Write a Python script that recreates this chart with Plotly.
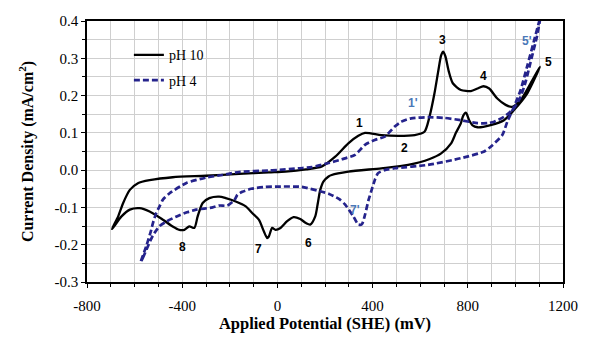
import plotly.graph_objects as go

# pH 10 cyclic voltammogram (solid black), closed loop starting at -695 mV
ph10_x = [-695, -669, -648, -620, -586, -537, -440, -300, -161, -36, 34, 120, 187, 243, 298, 340, 368,
          437, 507, 577, 618, 639, 660, 677, 688, 697, 706, 720, 737, 771, 813, 841, 866, 890, 924, 959,
          987, 1022, 1064, 1103,
          1050, 994, 952, 896, 841, 820, 805, 792, 780, 771, 750, 730, 688, 640, 549, 437, 298, 228,
          215, 194, 180, 170, 159, 138, 120, 96, 68, 41, 13, -8, -22, -36, -43, -57, -78, -106,
          -133, -175, -217, -245, -286, -314, -335, -349, -370, -391, -412, -440, -481, -537, -579,
          -620, -655, -695]
ph10_y = [-0.158, -0.124, -0.088, -0.053, -0.035, -0.027, -0.019, -0.015, -0.010, -0.006, -0.004, 0.002,
          0.010, 0.036, 0.072, 0.092, 0.100, 0.094, 0.092, 0.094, 0.103, 0.143, 0.206, 0.270, 0.308,
          0.318, 0.305, 0.265, 0.233, 0.215, 0.212, 0.219, 0.225, 0.219, 0.192, 0.175, 0.170, 0.188,
          0.233, 0.277,
          0.206, 0.161, 0.134, 0.121, 0.115, 0.120, 0.135, 0.154, 0.145, 0.126, 0.100, 0.072, 0.045,
          0.030, 0.014, 0.005, -0.004, -0.013, -0.017, -0.030, -0.053, -0.088, -0.124, -0.146, -0.142,
          -0.131, -0.126, -0.137, -0.155, -0.160, -0.155, -0.178, -0.182, -0.164, -0.133, -0.115,
          -0.097, -0.084, -0.075, -0.071, -0.075, -0.088, -0.124, -0.155, -0.151, -0.160, -0.160,
          -0.151, -0.133, -0.111, -0.102, -0.106, -0.124, -0.158]

# pH 4 cyclic voltammogram (dashed navy), closed loop starting at -575 mV
ph4_x = [-575, -565, -544, -523, -495, -467, -426, -380, -342, -272, -245, -210, -180, -168, -147, -110,
         -50, 6, 103, 187, 215, 260, 284, 319, 340, 355, 368, 383, 396, 410, 423, 450, 493, 632, 771,
         869, 900, 945, 966, 994, 1022, 1050, 1077, 1105,
         1091, 1064, 1043, 1022, 994, 952, 911, 883, 841, 771, 702, 632, 562, 521, 493, 451, 409, 368,
         326, 270, 215, 145, 89, 0, -36, -161, -231, -300, -384, -453, -481, -495, -509, -523, -530,
         -551, -575]
ph4_y = [-0.247, -0.235, -0.204, -0.175, -0.150, -0.138, -0.125, -0.113, -0.106, -0.100, -0.095, -0.095,
         -0.080, -0.066, -0.058, -0.050, -0.045, -0.044, -0.045, -0.058, -0.063, -0.078, -0.092,
         -0.124, -0.146, -0.145, -0.120, -0.080, -0.053, -0.025, -0.008, 0.000, 0.005, 0.014, 0.032,
         0.050, 0.065, 0.094, 0.130, 0.170, 0.215, 0.280, 0.344, 0.410,
         0.360, 0.290, 0.237, 0.197, 0.166, 0.143, 0.130, 0.126, 0.126, 0.134, 0.140, 0.142, 0.139,
         0.130, 0.117, 0.090, 0.081, 0.068, 0.041, 0.029, 0.019, 0.008, 0.005, 0.000, -0.001, -0.005,
         -0.013, -0.020, -0.035, -0.062, -0.079, -0.097, -0.115, -0.142, -0.160, -0.204, -0.247]

# Axis tick labels
x_ticks = [-800, -400, 0, 400, 800, 1200]
x_tick_text = ["-800", "-400", "0", "400", "800", "1200"]
y_ticks = [-0.3, -0.2, -0.1, 0.0, 0.1, 0.2, 0.3, 0.4]
y_tick_text = ["-0.3", "-0.2", "-0.1", "0.0", "0.1", "0.2", "0.3", "0.4"]

# Peak labels
label_text = ["1", "2", "3", "4", "5", "6", "7", "8", "1'", "5'", "7'"]
label_x = [347, 535, 695, 866, 1140, 131, -78, -400, 570, 1050, 326]
label_y = [0.126, 0.059, 0.350, 0.252, 0.290, -0.195, -0.211, -0.206, 0.180, 0.347, -0.106]
label_color = ["black"] * 8 + ["#4a78b8"] * 3

fig = go.Figure()
fig.add_trace(go.Scatter(x=ph10_x, y=ph10_y, mode="lines", name="pH 10",
                         line=dict(color="black", width=2.3, shape="spline", smoothing=0.7),
                         legendgroup="a"))
fig.add_trace(go.Scatter(x=ph4_x, y=ph4_y, mode="lines", name="pH 4",
                         line=dict(color="#25238c", width=2.7, dash="6px,3px", shape="spline",
                                   smoothing=0.6),
                         legendgroup="b"))

for t, x, y, c in zip(label_text, label_x, label_y, label_color):
    fig.add_annotation(x=x, y=y, text=t, showarrow=False,
                       font=dict(family="Liberation Sans", size=12, color=c, weight="bold"))

serif = "Liberation Serif"
grid = "#cfcfcf"
fig.update_layout(
    width=590, height=342,
    margin=dict(l=87, r=24, t=21, b=59),
    plot_bgcolor="white", paper_bgcolor="white",
    font=dict(family=serif, size=14, color="black"),
    showlegend=True,
    legend=dict(x=0.088, y=0.93, xanchor="left", yanchor="top", bgcolor="rgba(0,0,0,0)",
                font=dict(family=serif, size=14, color="black"), tracegroupgap=4),
    xaxis=dict(range=[-800, 1200], tickvals=x_ticks, ticktext=x_tick_text, showgrid=True,
               gridcolor=grid, gridwidth=1, zeroline=False, showline=True, linecolor="black",
               linewidth=1.5, mirror=True, ticks="outside", ticklen=4, tickcolor="black",
               ticklabelstandoff=5,
               minor=dict(dtick=100, tick0=0, showgrid=True, gridcolor=grid, ticks="outside",
                          ticklen=3, tickcolor="black"),
               tickfont=dict(family=serif, size=15),
               title=dict(text="<b>Applied Potential (SHE) (mV)</b>", standoff=5,
                          font=dict(family=serif, size=16.5))),
    yaxis=dict(range=[-0.3, 0.4], tickvals=y_ticks, ticktext=y_tick_text, showgrid=True,
               gridcolor=grid, gridwidth=1, zeroline=False, showline=True,
               linecolor="black", linewidth=1.5, mirror=True, ticks="outside", ticklen=4,
               tickcolor="black",
               minor=dict(dtick=0.05, tick0=0, showgrid=True, gridcolor=grid, ticks="outside",
                          ticklen=3, tickcolor="black"),
               tickfont=dict(family=serif, size=15),
               title=dict(text="<b>Current Density (mA/cm<sup>2</sup>)</b>", standoff=17,
                          font=dict(family=serif, size=16))),
)

fig.write_html("out.html")
